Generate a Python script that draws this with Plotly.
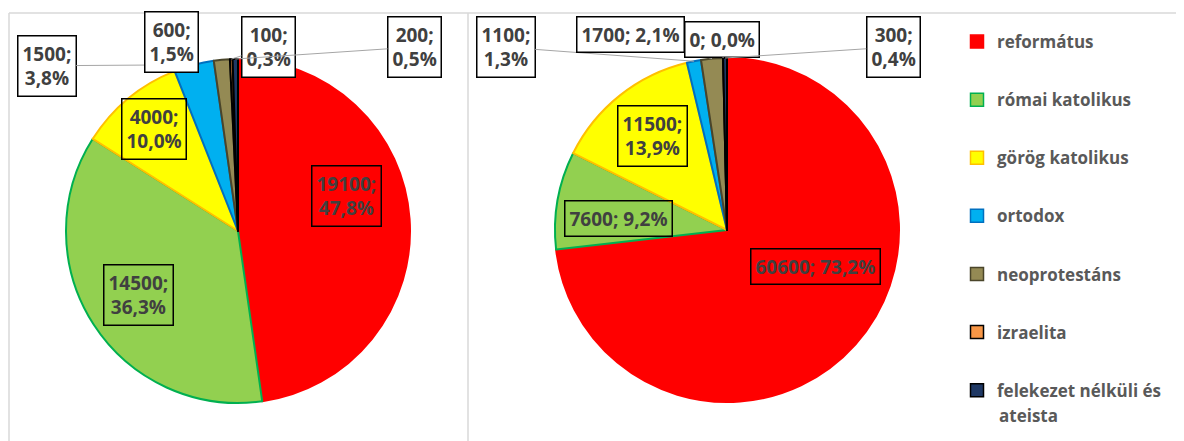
"""
Felekezeti megoszlás - két kördiagram közös jelmagyarázattal
"""
import math

import plotly.graph_objects as go

categories = [
    "református",
    "római katolikus",
    "görög katolikus",
    "ortodox",
    "neoprotestáns",
    "izraelita",
    "felekezet nélküli és ateista",
]
legend_names = categories[:-1] + ["felekezet nélküli és"]
legend_extra_line = "ateista"
values_left = [19100, 14500, 4000, 1500, 600, 100, 200]
values_right = [60600, 7600, 11500, 1100, 1700, 0, 300]

fill_colors = ["#FF0000", "#92D050", "#FFFF00", "#00B0F0", "#948A54", "#F79646", "#1F3864"]
line_colors = ["#FF0000", "#00B050", "#FFC000", "#0070C0", "#4A452A", "#000000", "#000000"]

W, H = 1184, 441
OFF = 8  # page body margin, figure is drawn 8px right/down of the window edge
R = 172
LABEL_FONT = dict(family="Open Sans", size=19, color="#404040", weight="bold")
LEGEND_FONT = dict(family="Open Sans", size=17, color="#595959", weight="bold")
LEADER = "#A6A6A6"


def px_x(x):
    return (x - OFF) / W


def px_y(y):
    return 1 - (y - OFF) / H


# label placement per slice: inside (radius factor + nudge) or outside (box offset)
left_labels = [
    dict(kind="in", k=0.66, dx=-5, dy=-27),
    dict(kind="in", k=0.69),
    dict(kind="in", k=0.77),
    dict(kind="out", ax=-147, ay=1),
    dict(kind="out", ax=-50, ay=-18, leader=False),
    dict(kind="out", ax=37, ay=-12),
    dict(kind="out", ax=179, ay=-12),
]
right_labels = [
    dict(kind="in", k=0.6, dx=11, dy=-32, oneline=True),
    dict(kind="in", k=0.64, dy=8, oneline=True),
    dict(kind="in", k=0.70),
    dict(kind="out", ax=-188, ay=-14),
    dict(kind="out", ax=-82, ay=-24, oneline=True),
    dict(kind="out", ax=-1, ay=-19, oneline=True),
    dict(kind="out", ax=168, ay=-11),
]

pies = [
    dict(values=values_left, cx=238, cy=231, labels=left_labels),
    dict(values=values_right, cx=727, cy=230, labels=right_labels),
]


def pct_text(val, total):
    p = math.floor(val / total * 1000 + 0.5) / 10
    return f"{p:.1f}".replace(".", ",") + "%"


fig = go.Figure()
annotations = []

for pie in pies:
    vals = pie["values"]
    cx, cy = pie["cx"], pie["cy"]
    total = sum(vals)
    fig.add_trace(
        go.Pie(
            labels=categories,
            values=vals,
            sort=False,
            direction="clockwise",
            rotation=0,
            textinfo="none",
            hoverinfo="label+value+percent",
            showlegend=False,
            marker=dict(colors=fill_colors, line=dict(color=line_colors, width=2)),
            domain=dict(x=[px_x(cx - R), px_x(cx + R)], y=[px_y(cy + R), px_y(cy - R)]),
        )
    )

    cum = 0
    for i, val in enumerate(vals):
        mid = (cum + val / 2) / total * 2 * math.pi
        cum += val
        st = pie["labels"][i]
        sep = "; " if st.get("oneline") else ";<br>"
        text = f"{val}{sep}{pct_text(val, total)}"
        common = dict(
            xref="paper", yref="paper", text=text, font=LABEL_FONT,
            xanchor="center", yanchor="middle",
            bordercolor="#000000", borderwidth=1.5, borderpad=4,
        )
        if st["kind"] == "in":
            lx = cx + st["k"] * R * math.sin(mid) + st.get("dx", 0)
            ly = cy - st["k"] * R * math.cos(mid) + st.get("dy", 0)
            annotations.append(dict(common, x=px_x(lx), y=px_y(ly), showarrow=False))
        else:
            ex = cx + R * math.sin(mid)
            ey = cy - R * math.cos(mid)
            show = st.get("leader", True)
            annotations.append(
                dict(
                    common, x=px_x(ex), y=px_y(ey),
                    ax=st["ax"], ay=st["ay"], axref="pixel", ayref="pixel",
                    showarrow=True, arrowhead=0, arrowwidth=1,
                    arrowcolor=LEADER if show else "rgba(0,0,0,0)",
                    bgcolor="#FFFFFF",
                )
            )

# legend entries
for name, fc, lc in zip(legend_names, fill_colors, line_colors):
    fig.add_trace(
        go.Scatter(
            x=[None], y=[None], mode="markers", name=name, legendgroup=name,
            marker=dict(symbol="square", size=13, color=fc, line=dict(color=lc, width=1.5)),
        )
    )

legend_top = 41
legend_step = 58
annotations.append(
    dict(
        xref="paper", yref="paper", x=px_x(997), y=px_y(legend_top + 6 * legend_step + 26),
        xanchor="left", yanchor="middle", text=legend_extra_line,
        showarrow=False, font=LEGEND_FONT,
    )
)

border = dict(type="line", xref="paper", yref="paper", line=dict(color="#D9D9D9", width=1.5))
shapes = [
    dict(border, x0=px_x(9), x1=px_x(1184), y0=px_y(13), y1=px_y(13)),
    dict(border, x0=px_x(9), x1=px_x(9), y0=px_y(441), y1=px_y(13)),
    dict(border, x0=px_x(468), x1=px_x(468), y0=px_y(441), y1=px_y(13)),
]

fig.update_layout(
    width=W,
    height=H,
    margin=dict(l=0, r=0, t=0, b=0),
    paper_bgcolor="#FFFFFF",
    plot_bgcolor="#FFFFFF",
    xaxis=dict(visible=False),
    yaxis=dict(visible=False),
    annotations=annotations,
    shapes=shapes,
    legend=dict(
        x=px_x(957), y=px_y(legend_top - 17), xanchor="left", yanchor="top",
        font=LEGEND_FONT, tracegroupgap=33, bgcolor="rgba(0,0,0,0)",
    ),
)

fig.write_html("out.html")
